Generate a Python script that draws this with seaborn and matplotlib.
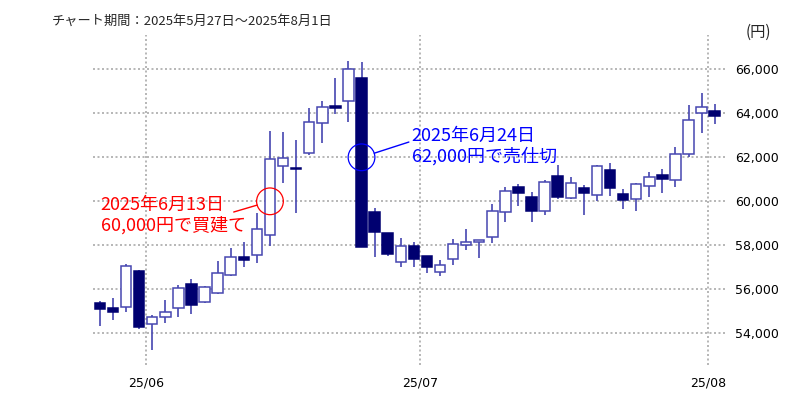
import matplotlib
matplotlib.use("Agg")
import matplotlib.pyplot as plt
import matplotlib.ticker as mticker
import numpy as np
import pandas as pd
import seaborn as sns

# daily candles 2025/05/27 - 2025/08/01 (07/21 market holiday)
dates = pd.bdate_range("2025-05-27", "2025-08-01", freq="C", holidays=["2025-07-21"])

opens = [55400, 55170, 55210, 56850, 54420, 54720, 55140, 56240, 55440, 55820,
         56650, 57460, 57560, 58470, 61600, 61530, 62180, 63550, 64350, 64570,
         65590, 59530, 58550, 57260, 57980, 57520, 56800, 57370, 58010, 58140,
         58400, 59500, 60660, 60210, 59540, 61160, 60170, 60590, 60290, 61440,
         60320, 60120, 60700, 61210, 60960, 62140, 64000, 64100]
highs = [55450, 55620, 57140, 56880, 54830, 55520, 56200, 56470, 56170, 57270,
         57870, 58140, 59460, 63200, 63140, 62790, 64230, 64560, 65590, 66380,
         66350, 59710, 58550, 58350, 58140, 57520, 57330, 58310, 58740, 58230,
         59870, 60660, 60770, 60440, 60970, 61650, 61120, 60740, 61650, 61740,
         60550, 60830, 61350, 61480, 62450, 64380, 64910, 64420]
lows = [54330, 54590, 54980, 54180, 53240, 54480, 54760, 54880, 55360, 55770,
        56600, 57000, 57210, 57970, 60850, 59480, 62100, 62670, 63970, 63620,
        57930, 57480, 57510, 57030, 57030, 56730, 56620, 57110, 57810, 57410,
        58120, 59070, 59790, 59070, 59380, 60090, 60090, 59380, 60010, 60240,
        59640, 59560, 60180, 60380, 60660, 62030, 63120, 63500]
closes = [55090, 54980, 57060, 54300, 54760, 54980, 56050, 55290, 56120, 56730,
          57480, 57330, 58730, 61910, 61950, 61450, 63620, 64300, 64240, 66010,
          57940, 58620, 57590, 57980, 57370, 57030, 57110, 58060, 58130, 58230,
          59560, 60480, 60400, 59550, 60890, 60200, 60810, 60370, 61600, 60600,
          60060, 60800, 61090, 61020, 62150, 63700, 64270, 63890]

buy_date, buy_price = "2025-06-13", 60000
sell_date, sell_price = "2025-06-24", 62000
buy_label = "2025年6月13日\n60,000円で買建て"
sell_label = "2025年6月24日\n62,000円で売仕切"
title = "チャート期間：2025年5月27日～2025年8月1日"
unit_label = "(円)"
yticks = [54000, 56000, 58000, 60000, 62000, 64000, 66000]
month_labels = ["25/06", "25/07", "25/08"]

df = pd.DataFrame({"date": dates, "open": opens, "high": highs,
                   "low": lows, "close": closes})
df["i"] = np.arange(len(df))
df["up"] = df["close"] >= df["open"]

sns.set_theme(style="white")
plt.rcParams["font.family"] = ["DejaVu Sans", "Noto Sans CJK JP"]
jp = ["Noto Sans CJK JP", "DejaVu Sans"]

edge = "#4646b0"
navy = "#000070"

fig = plt.figure(figsize=(8, 4), dpi=100)
ax = fig.add_axes([0.11625, 0.0875, 0.79, 0.825])

ax.vlines(df["i"], df["low"], df["high"], color=edge, lw=1.2, zorder=2)
body_lo = df[["open", "close"]].min(axis=1)
body_h = (df["close"] - df["open"]).abs()
ax.bar(df["i"], body_h, bottom=body_lo, width=0.8,
       color=np.where(df["up"], "white", navy),
       edgecolor=np.where(df["up"], edge, navy), linewidth=1.1, zorder=3)

# entry / exit markers
buy_i = df.index[df["date"] == buy_date][0]
sell_i = df.index[df["date"] == sell_date][0]
sns.scatterplot(x=[buy_i], y=[buy_price], s=370, marker="o",
                facecolor="none", edgecolor="red", linewidth=0.9, ax=ax, zorder=5)
sns.scatterplot(x=[sell_i], y=[sell_price], s=370, marker="o",
                facecolor="none", edgecolor="#0000ff", linewidth=0.9, ax=ax, zorder=5)

ax.annotate(buy_label, xy=(buy_i, buy_price), xytext=(-122, -10.2),
            textcoords="offset points", ha="left", va="center", color="red",
            fontsize=13, family=jp, linespacing=1.15)
ax.annotate("", xy=(buy_i, buy_price), xytext=(-26.1, -7.7),
            textcoords="offset points",
            arrowprops=dict(arrowstyle="-", color="red", lw=1,
                            shrinkA=0, shrinkB=9.6))
ax.annotate(sell_label, xy=(sell_i, sell_price), xytext=(36.2, 7.9),
            textcoords="offset points", ha="left", va="center", color="#0000ff",
            fontsize=13, family=jp, linespacing=1.15)
ax.annotate("", xy=(sell_i, sell_price), xytext=(34.1, 11),
            textcoords="offset points",
            arrowprops=dict(arrowstyle="-", color="#0000ff", lw=1,
                            shrinkA=0, shrinkB=9.6))

# month boundaries
month_start = df.groupby(df["date"].dt.to_period("M"))["i"].min().values[1:]
ax.set_xticks(month_start - 0.5)
ax.set_xticklabels(month_labels)
ax.set_xlim(-0.53, 47.79)

ax.yaxis.tick_right()
ax.set_yticks(yticks)
ax.yaxis.set_major_formatter(mticker.StrMethodFormatter("{x:,.0f}"))
ax.set_ylim(52561, 67559)

ax.tick_params(axis="both", length=0, labelsize=9, colors="black")
ax.tick_params(axis="y", pad=7)
ax.tick_params(axis="x", pad=8)
ax.grid(True, color="#aaaaaa", lw=1.2, linestyle=(0, (1.2, 1.5)))
ax.set_axisbelow(True)
for s in ax.spines.values():
    s.set_visible(False)

fig.text(52 / 800, 1 - 21 / 400, title, ha="left", va="center",
         fontsize=9.5, family=jp)
fig.text(758 / 800, 1 - 32 / 400, unit_label, ha="center", va="center",
         fontsize=11, family=jp)

fig.savefig("out.png", dpi=100)
